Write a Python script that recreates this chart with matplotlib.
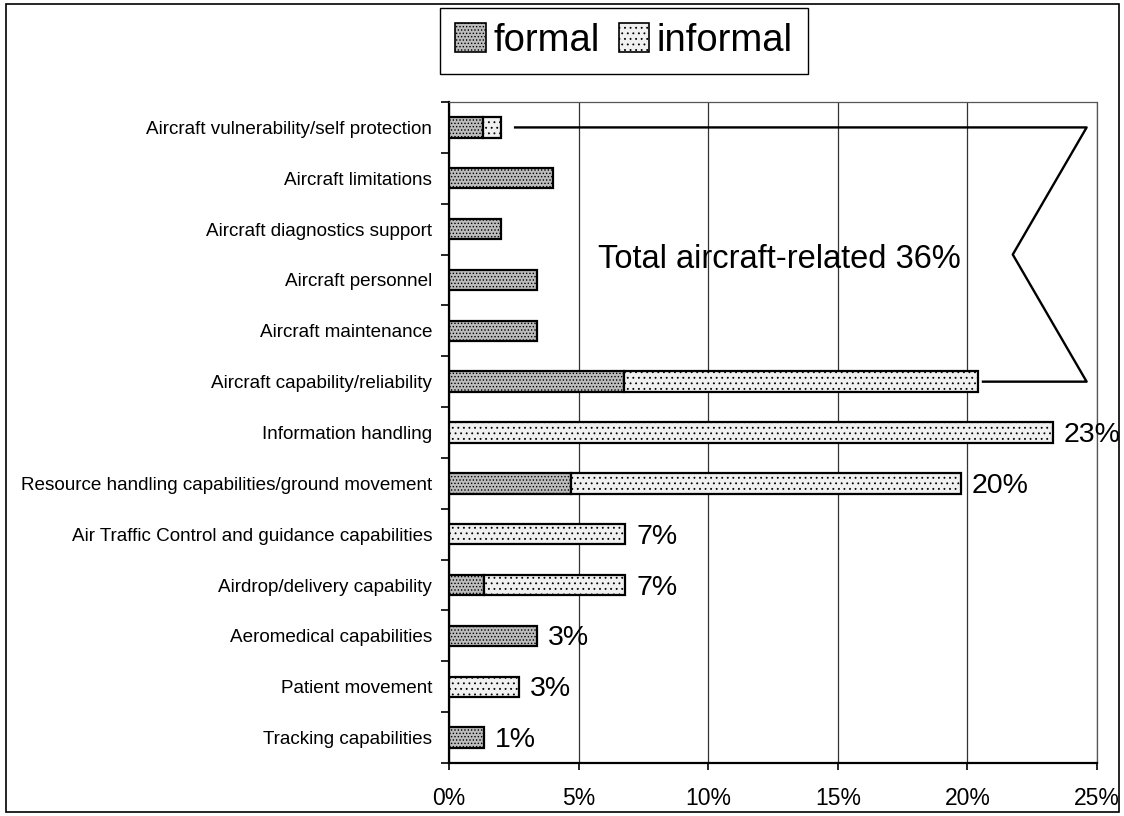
import matplotlib
matplotlib.use("Agg")
import matplotlib.pyplot as plt
from matplotlib.patches import Rectangle, Patch
import numpy as np

plt.rcParams['font.family'] = ['Liberation Sans', 'DejaVu Sans']
plt.rcParams['hatch.linewidth'] = 0.6

categories = [
    "Aircraft vulnerability/self protection",
    "Aircraft limitations",
    "Aircraft diagnostics support",
    "Aircraft personnel",
    "Aircraft maintenance",
    "Aircraft capability/reliability",
    "Information handling",
    "Resource handling capabilities/ground movement",
    "Air Traffic Control and guidance capabilities",
    "Airdrop/delivery capability",
    "Aeromedical capabilities",
    "Patient movement",
    "Tracking capabilities",
]
formal = [1.3, 4.0, 2.0, 3.4, 3.4, 6.75, 0.0, 4.7, 0.0, 1.35, 3.4, 0.0, 1.35]
informal = [0.7, 0.0, 0.0, 0.0, 0.0, 13.65, 23.3, 15.05, 6.8, 5.45, 0.0, 2.7, 0.0]
total_labels = [None, None, None, None, None, None, "23%", "20%", "7%", "7%", "3%", "3%", "1%"]
group_label = "Total aircraft-related 36%"
xticks = [0, 5, 10, 15, 20, 25]
xtick_labels = ["0%", "5%", "10%", "15%", "20%", "25%"]

FORMAL_FC, INFORMAL_FC = '#bcbcbc', '#f0f0f0'

fig = plt.figure(figsize=(11.24, 8.16), dpi=100)
ax = fig.add_axes([449/1124, 1-763/816, (1097-449)/1124, (763-102)/816])

y = np.arange(len(categories))
formal_a = np.array(formal)
informal_a = np.array(informal)
h = 0.4
m_f = formal_a > 0
m_i = informal_a > 0
ax.barh(y[m_f], formal_a[m_f], height=h, color=FORMAL_FC, edgecolor='black',
        linewidth=1.6, hatch='.....', zorder=3)
ax.barh(y[m_i], informal_a[m_i], left=formal_a[m_i], height=h, color=INFORMAL_FC,
        edgecolor='black', linewidth=1.6, hatch='...', zorder=3)

totals = formal_a + informal_a
for yi, t, lab in zip(y, totals, total_labels):
    if lab:
        ax.text(t + 0.42, yi + 0.05, lab, fontsize=20.5, va='center', ha='left', zorder=4)

# bracket for aircraft-related group
top_i, bot_i = 0, 5
x_tip = 24.6
x_notch = 21.75
ax.plot([totals[top_i] + 0.55, x_tip, x_notch, x_tip, totals[bot_i] + 0.2],
        [top_i, top_i, (top_i + bot_i) / 2, bot_i, bot_i],
        color='black', lw=1.7, zorder=4, clip_on=False)
ax.text(5.75, 2.6, group_label, fontsize=23.5, va='center', ha='left', zorder=4)

ax.set_xlim(0, 25)
ax.set_ylim(len(categories) - 0.5, -0.5)
ax.set_xticks(xticks)
ax.set_xticklabels(xtick_labels, fontsize=16.5)
ax.set_yticks(y)
ax.set_yticklabels(categories, fontsize=13.6)
ax.tick_params(axis='y', length=0, pad=12)
ax.set_yticks(np.arange(len(categories) + 1) - 0.5, minor=True)
ax.tick_params(axis='y', which='minor', length=6, width=1.2, direction='out')
ax.tick_params(axis='x', length=5, width=1.2, direction='out', pad=12)

ax.grid(axis='x', color='#333333', lw=0.9, zorder=0)
ax.set_axisbelow(True)
for s in ['left', 'bottom']:
    ax.spines[s].set_linewidth(1.6)
    ax.spines[s].set_color('black')
for s in ['top', 'right']:
    ax.spines[s].set_linewidth(0.9)
    ax.spines[s].set_color('#555555')
    ax.spines[s].set_linestyle((0, (2, 1)))

# legend
handles = [Patch(facecolor=FORMAL_FC, edgecolor='black', hatch='.....', lw=1.2),
           Patch(facecolor=INFORMAL_FC, edgecolor='black', hatch='...', lw=1.2)]
leg = fig.legend(handles, ['formal', 'informal'], loc='center',
                 bbox_to_anchor=(624/1124, 1-41/816), ncol=2, fontsize=27.5,
                 handlelength=0.8, handleheight=0.8, handletextpad=0.2,
                 columnspacing=0.5, fancybox=False, edgecolor='black',
                 borderpad=0.4, framealpha=1)
leg.get_frame().set_linewidth(1.0)

# outer border
fig.patches.append(Rectangle((6/1124, 4/816), 1113/1124, 808/816, transform=fig.transFigure,
                             fill=False, edgecolor='black', lw=1.2))

fig.savefig('out.png', dpi=100)
